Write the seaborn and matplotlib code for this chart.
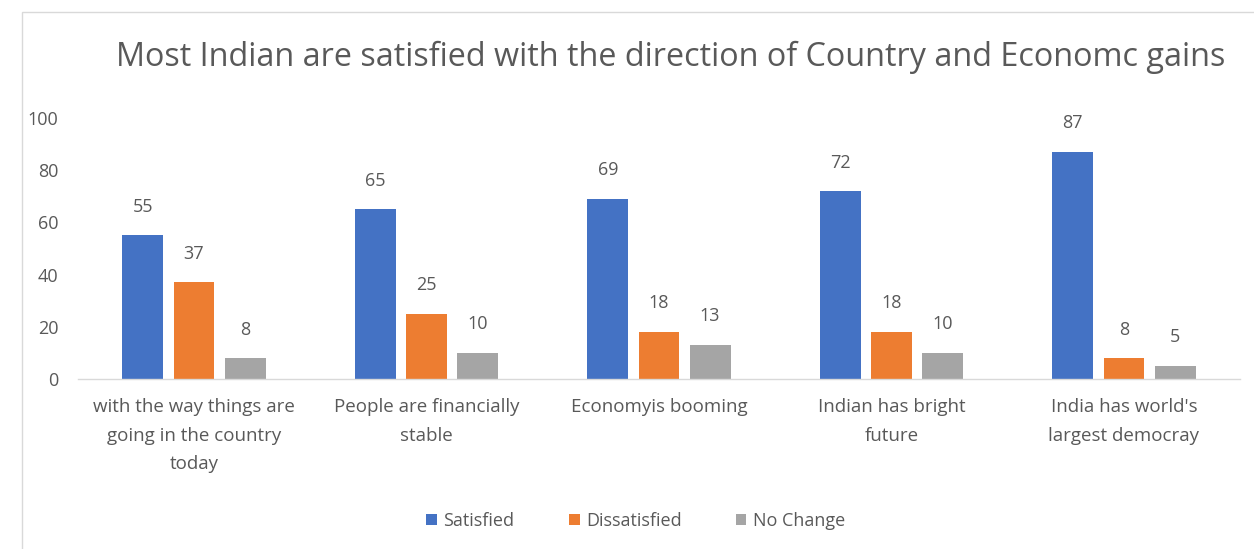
import matplotlib
matplotlib.use("Agg")
import matplotlib.pyplot as plt
import seaborn as sns
import pandas as pd
from matplotlib.patches import Rectangle

categories = ["with the way things are\ngoing in the country\ntoday",
              "People are financially\nstable",
              "Economyis booming",
              "Indian has bright\nfuture",
              "India has world's\nlargest democray"]
satisfied = [55, 65, 69, 72, 87]
dissatisfied = [37, 25, 18, 18, 8]
no_change = [8, 10, 13, 10, 5]
series = ["Satisfied", "Dissatisfied", "No Change"]
colors = ["#4472C4", "#ED7D31", "#A5A5A5"]

rows = []
for i, c in enumerate(categories):
    for s, vals in zip(series, [satisfied, dissatisfied, no_change]):
        rows.append({"cat": c, "series": s, "value": vals[i]})
df = pd.DataFrame(rows)

sns.set_theme(style="white")
plt.rcParams['font.family'] = ['Open Sans', 'DejaVu Sans']
txt = "#595959"

fig = plt.figure(figsize=(12.54, 5.49), dpi=100)
ax = fig.add_axes([0.062, 0.310, 0.927, 0.475])
sns.barplot(data=df, x="cat", y="value", hue="series", hue_order=series,
            palette=colors, width=0.66, gap=0.2, ax=ax, saturation=1,
            edgecolor="none", legend=True)

ax.set_ylim(0, 100)
ax.set_xlim(-0.5, 4.5)
ax.set_yticks([0, 20, 40, 60, 80, 100])
ax.set_xticks(range(len(categories)))
ax.set_xticklabels(categories, linespacing=1.75)
ax.tick_params(axis="y", labelsize=13, colors=txt, length=0, pad=14)
ax.tick_params(axis="x", labelsize=13.5, colors=txt, length=0, pad=14)
ax.set_xlabel("")
ax.set_ylabel("")
for sp in ["top", "right", "left"]:
    ax.spines[sp].set_visible(False)
ax.spines["bottom"].set_color("#D9D9D9")
ax.spines["bottom"].set_linewidth(1)

for cont in ax.containers:
    ax.bar_label(cont, fmt="%d", padding=14, fontsize=13, color=txt)

ax.legend(loc="center", bbox_to_anchor=(0.48, -0.545), ncol=3, frameon=False,
          fontsize=13, labelcolor=txt, handlelength=0.6, handleheight=0.6,
          handletextpad=0.35, columnspacing=3.0)

fig.text(0.535, 0.896, "Most Indian are satisfied with the direction of Country and Economc gains",
         ha="center", va="center", fontsize=23.3, color=txt)

fig.patches.append(Rectangle((22 / 1254, -0.01), 1.2, 1 - 12 / 549 + 0.01,
                             transform=fig.transFigure, fill=False,
                             edgecolor="#D9D9D9", linewidth=1))

fig.savefig("out.png", dpi=100)
